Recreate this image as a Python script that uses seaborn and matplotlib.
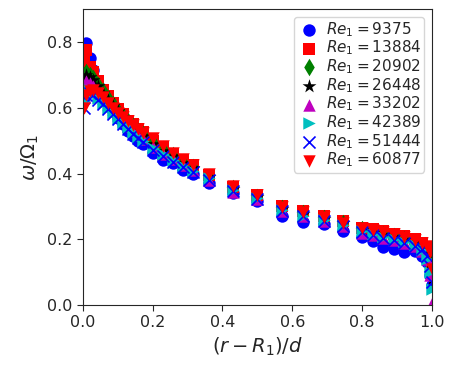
import numpy as np
import pandas as pd
import matplotlib
matplotlib.use('Agg')
import matplotlib.pyplot as plt
import seaborn as sns

# radial positions (r - R1)/d, shared by all runs
r_pos = [0.003, 0.01, 0.02, 0.03, 0.043, 0.057, 0.071, 0.086, 0.1, 0.115, 0.129, 0.143,
         0.157, 0.171, 0.2, 0.229, 0.258, 0.286, 0.316, 0.36, 0.43, 0.5, 0.57, 0.63,
         0.69, 0.745, 0.8, 0.83, 0.86, 0.89, 0.92, 0.95, 0.97, 0.985, 0.995, 1.0]

reynolds = [9375, 13884, 20902, 26448, 33202, 42389, 51444, 60877]

# omega / Omega_1 for each run
w_9375 = [0.78, 0.797, 0.75, 0.715, 0.67, 0.64, 0.615, 0.59, 0.57, 0.55, 0.53, 0.515,
          0.50, 0.49, 0.462, 0.441, 0.432, 0.41, 0.40, 0.37, 0.34, 0.315, 0.27, 0.252,
          0.245, 0.225, 0.207, 0.195, 0.177, 0.17, 0.16, 0.165, 0.15, 0.13, 0.09, 0.06]
w_13884 = [0.74, 0.775, 0.725, 0.71, 0.68, 0.655, 0.635, 0.615, 0.595, 0.58, 0.56, 0.55,
           0.535, 0.525, 0.50, 0.48, 0.46, 0.44, 0.425, 0.395, 0.36, 0.335, 0.30, 0.285,
           0.27, 0.255, 0.235, 0.23, 0.225, 0.215, 0.21, 0.20, 0.19, 0.175, 0.15, 0.12]
w_20902 = [0.70, 0.71, 0.70, 0.69, 0.67, 0.65, 0.63, 0.61, 0.59, 0.575, 0.56, 0.545,
           0.53, 0.52, 0.495, 0.475, 0.455, 0.435, 0.42, 0.39, 0.355, 0.33, 0.295, 0.28,
           0.265, 0.25, 0.23, 0.22, 0.215, 0.21, 0.20, 0.19, 0.18, 0.16, 0.13, 0.09]
w_26448 = [0.68, 0.70, 0.695, 0.685, 0.665, 0.645, 0.625, 0.605, 0.59, 0.572, 0.555, 0.54,
           0.528, 0.515, 0.49, 0.47, 0.452, 0.433, 0.418, 0.388, 0.352, 0.328, 0.293, 0.277,
           0.262, 0.248, 0.228, 0.22, 0.213, 0.207, 0.198, 0.188, 0.178, 0.16, 0.125, 0.08]
w_33202 = [0.64, 0.68, 0.675, 0.665, 0.645, 0.63, 0.61, 0.595, 0.578, 0.56, 0.545, 0.53,
           0.518, 0.505, 0.48, 0.46, 0.443, 0.425, 0.41, 0.38, 0.345, 0.322, 0.285, 0.27,
           0.255, 0.24, 0.22, 0.212, 0.205, 0.198, 0.19, 0.18, 0.165, 0.14, 0.09, 0.005]
w_42389 = [0.62, 0.655, 0.655, 0.645, 0.63, 0.615, 0.60, 0.585, 0.57, 0.555, 0.54, 0.525,
           0.512, 0.50, 0.478, 0.458, 0.44, 0.423, 0.408, 0.385, 0.35, 0.325, 0.29, 0.272,
           0.258, 0.243, 0.224, 0.215, 0.207, 0.20, 0.192, 0.182, 0.168, 0.14, 0.10, 0.05]
w_51444 = [0.60, 0.64, 0.645, 0.64, 0.625, 0.61, 0.595, 0.58, 0.565, 0.55, 0.535, 0.52,
           0.507, 0.495, 0.473, 0.453, 0.436, 0.42, 0.405, 0.38, 0.347, 0.322, 0.287, 0.27,
           0.256, 0.24, 0.222, 0.213, 0.205, 0.198, 0.19, 0.18, 0.17, 0.15, 0.12, 0.07]
w_60877 = [0.60, 0.64, 0.65, 0.654, 0.645, 0.633, 0.615, 0.60, 0.585, 0.572, 0.56, 0.547,
           0.535, 0.523, 0.507, 0.484, 0.462, 0.443, 0.426, 0.398, 0.362, 0.335, 0.298, 0.283,
           0.268, 0.25, 0.234, 0.228, 0.222, 0.215, 0.208, 0.198, 0.19, 0.18, 0.16, 0.11]

profiles = [w_9375, w_13884, w_20902, w_26448, w_33202, w_42389, w_51444, w_60877]
markers = ['o', 's', 'd', '*', '^', '>', 'x', 'v']
colors = ['b', 'r', 'g', 'k', 'm', 'c', 'b', 'r']

sns.set_style('ticks')
plt.rcParams['font.family'] = ['DejaVu Sans']

fig = plt.figure(figsize=(4.5, 3.67), dpi=100)
ax = fig.add_axes([0.184, 0.169, 0.776, 0.806])

for re, w, m, c in zip(reynolds, profiles, markers, colors):
    df = pd.DataFrame({'r': r_pos, 'w': w})
    if m == 'x':
        sns.scatterplot(data=df, x='r', y='w', marker=m, color=c, s=75, linewidth=1.2,
                        label=rf'$Re_1 = {re}$', ax=ax)
    else:
        size = 110 if m == '*' else 80
        sns.scatterplot(data=df, x='r', y='w', marker=m, color=c, s=size, linewidth=0,
                        label=rf'$Re_1 = {re}$', ax=ax)

ax.set_xlim(0, 1.0)
ax.set_ylim(0, 0.9)
ax.set_xticks([0, 0.2, 0.4, 0.6, 0.8, 1.0])
ax.set_yticks([0, 0.2, 0.4, 0.6, 0.8])
ax.tick_params(labelsize=11.5, length=4)
ax.set_xlabel(r'$(r-R_1)/d$', fontsize=14)
ax.set_ylabel(r'$\omega/\Omega_1$', fontsize=14)
ax.legend(loc='upper right', fontsize=11, handletextpad=0.3, borderpad=0.2,
          labelspacing=0.0, borderaxespad=0.5, handlelength=1.6)

plt.savefig('out.png', dpi=100)
